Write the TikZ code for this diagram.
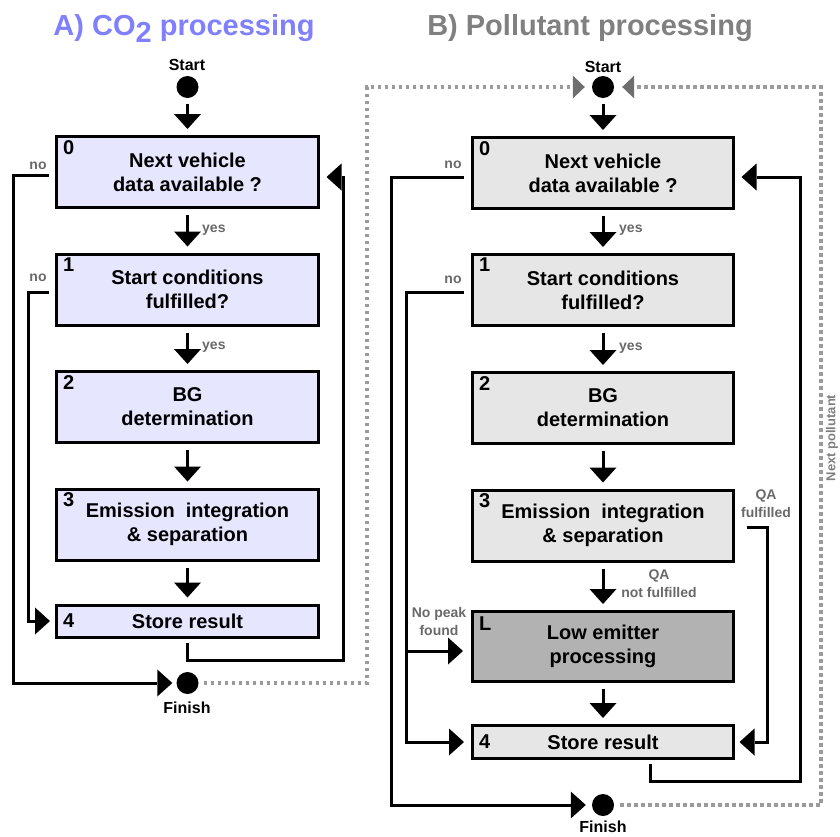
\documentclass[tikz,border=0pt]{standalone}
\usepackage{fontspec}
\setmainfont{Liberation Sans}
\usetikzlibrary{arrows.meta,calc}
\definecolor{lavfill}{RGB}{230,230,255}
\definecolor{greyfill}{RGB}{230,230,230}
\definecolor{darkfill}{RGB}{178,178,178}
\definecolor{titleblue}{RGB}{128,128,255}
\definecolor{titlegrey}{RGB}{128,128,128}
\definecolor{labgrey}{RGB}{105,105,105}
\definecolor{dotgrey}{RGB}{155,155,155}
\definecolor{headgrey}{RGB}{110,110,110}
\begin{document}
\begin{tikzpicture}[x=1pt,y=-1pt,
  box/.style={draw=black,line width=3pt,minimum width=262pt,minimum height=71pt,inner sep=0pt,align=center,font=\bfseries\fontsize{20}{24}\selectfont},
  boxA/.style={box,fill=lavfill},
  boxB/.style={box,fill=greyfill,minimum width=261pt},
  num/.style={anchor=north west,inner sep=0pt,font=\bfseries\fontsize{20}{20}\selectfont},
  dot/.style={circle,fill=black,minimum size=22pt,inner sep=0pt},
  arr/.style={line width=3pt,-{Triangle[width=27pt,length=15pt,line width=0pt]}},
  arrv/.style={arr,shorten <=6pt,shorten >=6pt},
  dotline/.style={line width=3.2pt,draw=dotgrey,dash pattern=on 3.5pt off 3.5pt,-{Triangle[width=23pt,length=12pt,line width=0pt,color=headgrey,fill=headgrey]}},
  lab/.style={inner sep=0pt,text=labgrey,font=\bfseries\fontsize{14}{18}\selectfont,align=center},
  term/.style={inner sep=0pt,font=\bfseries\fontsize{16}{16}\selectfont,anchor=base},
  title/.style={inner sep=0pt,font=\bfseries\fontsize{29}{29}\selectfont,anchor=base},
]
\useasboundingbox (0,0) rectangle (840,836);

% titles
\node[title,text=titleblue] (tA) at (184,35) {A) CO\raisebox{-7pt}{2} processing};
\node[title,text=titlegrey] (tB) at (590,35) {B) Pollutant processing};

% terminals
\node[term] (sAl) at (187,70) {Start};
\node[term] (sBl) at (603,72) {Start};
\node[dot] (sa) at (187.5,87) {};
\node[dot] (sb) at (603,87) {};
\node[dot] (fa) at (187.5,683) {};
\node[dot] (fb) at (603,805) {};
\node[term] (fAl) at (187,713) {Finish};
\node[term] (fBl) at (603,832) {Finish};

% A boxes
\node[boxA] (a0) at (187.5,172) {Next vehicle\\data available ?};
\node[boxA] (a1) at (187.5,289.5) {Start conditions\\fulfilled?};
\node[boxA] (a2) at (187.5,407) {BG\\determination};
\node[boxA] (a3) at (187.5,524.5) {Emission~ integration\\\& separation};
\node[boxA,minimum height=32pt] (a4) at (187.5,621) {Store result};
\node[num] (a0n) at ($(a0.north west)+(8,5)$) {0};
\node[num] (a1n) at ($(a1.north west)+(8,5)$) {1};
\node[num] (a2n) at ($(a2.north west)+(8,5)$) {2};
\node[num] (a3n) at ($(a3.north west)+(8,5)$) {3};
\node[num,anchor=west] (a4n) at ($(a4.west)+(8,0)$) {4};

% B boxes
\node[boxB] (b0) at (603,173) {Next vehicle\\data available ?};
\node[boxB] (b1) at (603,290) {Start conditions\\fulfilled?};
\node[boxB] (b2) at (603,408) {BG\\determination};
\node[boxB] (b3) at (603,525.5) {Emission~ integration\\\& separation};
\node[box,fill=darkfill,minimum width=261pt,minimum height=70pt] (bl) at (603,646.5) {Low emitter\\processing};
\node[boxB,minimum height=33pt] (b4) at (603,742) {Store result};
\node[num] (b0n) at ($(b0.north west)+(8,5)$) {0};
\node[num] (b1n) at ($(b1.north west)+(8,5)$) {1};
\node[num] (b2n) at ($(b2.north west)+(8,5)$) {2};
\node[num] (b3n) at ($(b3.north west)+(8,5)$) {3};
\node[num] (bln) at ($(bl.north west)+(8,7)$) {L};
\node[num,anchor=west] (b4n) at ($(b4.west)+(8,0)$) {4};

% A vertical flow
\draw[arrv] (sa) -- (a0);
\draw[arrv] (a0) -- (a1);
\draw[arrv] (a1) -- (a2);
\draw[arrv] (a2) -- (a3);
\draw[arrv] (a3) -- (a4);

% B vertical flow
\draw[arrv] (sb) -- (b0);
\draw[arrv] (b0) -- (b1);
\draw[arrv] (b1) -- (b2);
\draw[arrv] (b2) -- (b3);
\draw[arrv] (b3) -- (bl);
\draw[arrv] (bl) -- (b4);

% A side connectors
\coordinate (nA0) at (13,683);
\coordinate (nA1) at (28,621);
\coordinate (fA) at (343,660);
\draw[arr,shorten <=6.5pt,shorten >=4pt] ([yshift=-3pt]a0.west) -| (nA0) -- (fa);
\draw[arr,shorten <=6.5pt,shorten >=5pt] ([yshift=-2.5pt]a1.west) -| (nA1) -- (a4.west);
\draw[arr,shorten <=4pt,shorten >=6.5pt] (a4.south) |- (fA) |- ([yshift=-5pt]a0.east);

% B side connectors
\coordinate (nB0) at (391,805);
\coordinate (nB1) at (406,742);
\coordinate (np) at (406,651);
\coordinate (fB) at (800,781);
\coordinate (qa) at (767,742);
\draw[arr,shorten <=7pt,shorten >=6pt] ([yshift=-4pt]b0.west) -| (nB0) -- (fb);
\draw[arr,shorten <=7pt,shorten >=7pt] ([yshift=-2pt]b1.west) -| (nB1) -- (b4.west);
\draw[arr,shorten >=8pt] (np) -- (np -| bl.west);
\draw[arr,shorten <=4pt,shorten >=6.5pt] ([xshift=47pt]b4.south) |- (fB) |- ([yshift=-4pt]b0.east);
\draw[arr,shorten <=11.5pt,shorten >=4.5pt] ([yshift=-1.5pt]b3.east) -| (qa) -- (b4.east);

% dotted loop
\coordinate (dA1) at (367,683);
\coordinate (dA2) at (367,87);
\coordinate (dB1) at (821,805);
\coordinate (dB2) at (821,87);
\draw[dotline,shorten <=5pt,shorten >=7pt] (fa) -- (dA1) -- (dA2) -- (sb);
\draw[dotline,shorten <=6pt,shorten >=8pt] (fb) -- (dB1) -- (dB2) -- (sb);

% labels
\node[lab] (na0) at (38,166) {no};
\node[lab] (na1) at (38,278) {no};
\node[lab,anchor=west] (ya0) at (202,230) {yes};
\node[lab,anchor=west] (ya1) at (202,347) {yes};
\node[lab] (nb0) at (453,165) {no};
\node[lab] (nb1) at (453,280) {no};
\node[lab,anchor=west] (yb0) at (619,230) {yes};
\node[lab,anchor=west] (yb1) at (619,348) {yes};
\node[lab] (qanf) at (659,584) {QA\\not fulfilled};
\node[lab] (qaf) at (766,504) {QA\\fulfilled};
\node[lab] (npk) at (439,621) {No peak\\found};
\node[lab,text=titlegrey,rotate=90,font=\bfseries\fontsize{13}{13}\selectfont] (nxp) at (832,438) {Next pollutant};
\end{tikzpicture}
\end{document}
